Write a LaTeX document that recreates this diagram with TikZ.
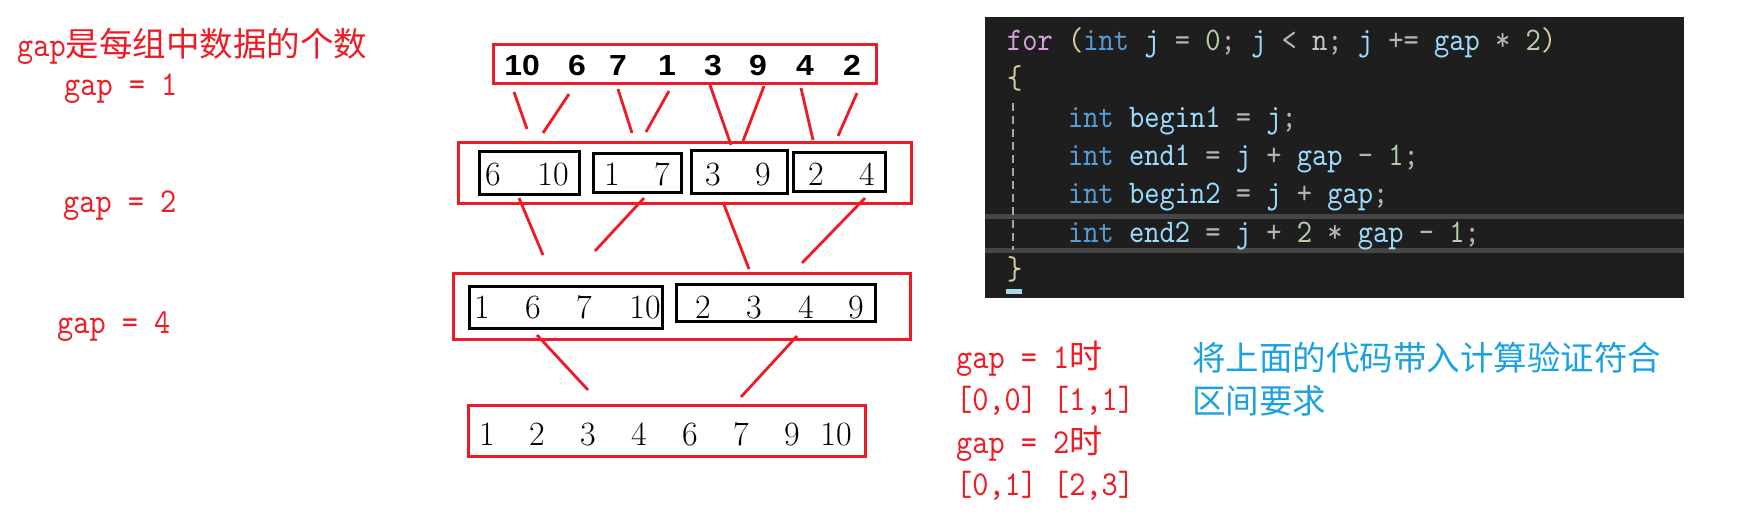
\documentclass[tikz,border=0pt]{standalone}
\usepackage{fontspec}
\newfontfamily\monof{lmmono10-regular.otf}[FakeStretch=0.88]
\newfontfamily\cjk{Noto Sans CJK SC}
\newfontfamily\bsans{Liberation Sans}[FakeStretch=1.1]
\definecolor{myred}{HTML}{ED1C24}
\definecolor{myblue}{HTML}{1BA1E2}
\definecolor{codebg}{HTML}{1E1E1E}
\definecolor{codebar}{HTML}{464646}
\definecolor{cctl}{HTML}{D8A0DF}
\definecolor{ckw}{HTML}{569CD6}
\definecolor{cvar}{HTML}{9CDCFE}
\definecolor{cnum}{HTML}{B5CEA8}
\definecolor{cop}{HTML}{B4B4B4}
\definecolor{cpar}{HTML}{D8CDA2}
\definecolor{cid}{HTML}{C8C8C8}
\definecolor{ccur}{HTML}{A8D8EA}
\newcommand\codeCtl[1]{{\color{cctl}#1}}
\newcommand\codeKw[1]{{\color{ckw}#1}}
\newcommand\codeVar[1]{{\color{cvar}#1}}
\newcommand\codeNum[1]{{\color{cnum}#1}}
\newcommand\codeOp[1]{{\color{cop}#1}}
\newcommand\codePar[1]{{\color{cpar}#1}}
\newcommand\codeId[1]{{\color{cid}#1}}
\begin{document}
\begin{tikzpicture}[x=1pt,y=-1pt,
  redbox/.style={draw=myred,line width=3pt,inner sep=0pt,outer sep=0pt},
  blkbox/.style={draw=black,line width=3pt,inner sep=0pt,outer sep=0pt},
  conn/.style={draw=myred,line width=2.8pt},
  topnum/.style={anchor=base,inner sep=0pt,font=\fontsize{29}{32}\bsans\bfseries},
  rownum/.style={anchor=base,inner sep=0pt,font=\fontsize{34}{40}\selectfont},
  redtxt/.style={anchor=base west,inner sep=0pt,text=myred,font=\fontsize{35}{40}\monof},
  bluetxt/.style={anchor=base west,inner sep=0pt,text=myblue,font=\fontsize{33.5}{40}\cjk},
  codetxt/.style={anchor=base west,inner sep=0pt,font=\fontsize{33}{40}\monof}]
\useasboundingbox (0,0) rectangle (1743,515);

% ---- left labels
\node[redtxt] (lab0) at (17,56) {gap{\fontsize{33.5}{40}\cjk 是每组中数据的个数}};
\node[redtxt] (lab1) at (64,95) {gap = 1};
\node[redtxt] (lab2) at (63,212) {gap = 2};
\node[redtxt] (lab4) at (57,333) {gap = 4};

% ---- boxes
\node[redbox,minimum width=383pt,minimum height=39pt] (r1) at (684.5,63.5) {};
\node[redbox,minimum width=453pt,minimum height=61pt] (r2) at (684.5,172.5) {};
\node[blkbox,minimum width=100pt,minimum height=43pt] (b1) at (529,172.5) {};
\node[blkbox,minimum width=88pt,minimum height=39pt] (b2) at (637,172.5) {};
\node[blkbox,minimum width=96pt,minimum height=43pt] (b3) at (739,171.5) {};
\node[blkbox,minimum width=92pt,minimum height=39pt] (b4) at (839,171.5) {};
\node[redbox,minimum width=457pt,minimum height=66pt] (r3) at (681.5,306) {};
\node[blkbox,minimum width=193pt,minimum height=42pt] (c1) at (565.5,307) {};
\node[blkbox,minimum width=199pt,minimum height=37pt] (c2) at (775.5,302.5) {};
\node[redbox,minimum width=397pt,minimum height=51pt] (r4) at (666.5,430.5) {};

% ---- numbers
\foreach \i/\x/\t in {1/522/10,2/577/6,3/618/7,4/667/1,5/713/3,6/758/9,7/805/4,8/852/2}
  \node[topnum] (t\i) at (\x,75) {\t};
\foreach \i/\x/\t in {1/493/6,2/553/10,3/612/1,4/662/7,5/713/3,6/763/9,7/816/2,8/867/4}
  \node[rownum] (m\i) at (\x,185) {\t};
\foreach \i/\x/\t in {1/482/1,2/533/6,3/584/7,4/645/10,5/703/2,6/754/3,7/806/4,8/856/9}
  \node[rownum] (n\i) at (\x,318) {\t};
\foreach \i/\x/\t in {1/487/1,2/537/2,3/588/3,4/639/4,5/690/6,6/741/7,7/792/9,8/836/10}
  \node[rownum] (o\i) at (\x,445) {\t};

% ---- connectors
\foreach \i/\xa/\ya/\xb/\yb in {
  1/514/92/527/129, 2/569/94/543/133, 3/618/89/632/133, 4/669/91/646/132,
  5/710/85/731/145, 6/764/86/743/141, 7/801/88/813/140, 8/857/93/838/136,
  9/519/198/543/255, 10/644/198/595/251, 11/723/202/749/269, 12/865/198/802/263,
  13/537/335/588/390, 14/797/336/741/397}{
  \coordinate (s\i) at (\xa,\ya);
  \coordinate (e\i) at (\xb,\yb);
  \draw[conn] (s\i) -- (e\i);
}

% ---- code panel
\fill[codebg] (985,17) rectangle (1684,298);
\fill[codebar] (985,214) rectangle (1684,219);
\fill[codebar] (985,247.5) rectangle (1684,252.5);
\draw[color=gray!70,line width=2pt,dash pattern=on 8pt off 5pt] (1013,103) -- (1013,250);
\fill[ccur] (1006,289) rectangle (1022,294);
\node[codetxt] (k1) at (1007,50) {\codeCtl{for} \codePar{(}\codeKw{int} \codeVar{j} \codeOp{=} \codeNum{0}\codeOp{;} \codeVar{j} \codeOp{<} \codeId{n}\codeOp{;} \codeVar{j} \codeOp{+=} \codeVar{gap} \codeOp{*} \codeNum{2}\codePar{)}};
\node[codetxt] (k2) at (1007,88) {\codePar{\{}};
\node[codetxt] (k3) at (1068,127) {\codeKw{int} \codeVar{begin1} \codeOp{=} \codeVar{j}\codeOp{;}};
\node[codetxt] (k4) at (1068,165) {\codeKw{int} \codeVar{end1} \codeOp{=} \codeVar{j} \codeOp{+} \codeVar{gap} \codeOp{-} \codeNum{1}\codeOp{;}};
\node[codetxt] (k5) at (1068,203) {\codeKw{int} \codeVar{begin2} \codeOp{=} \codeVar{j} \codeOp{+} \codeVar{gap}\codeOp{;}};
\node[codetxt] (k6) at (1068,242) {\codeKw{int} \codeVar{end2} \codeOp{=} \codeVar{j} \codeOp{+} \codeNum{2} \codeOp{*} \codeVar{gap} \codeOp{-} \codeNum{1}\codeOp{;}};
\node[codetxt] (k7) at (1007,279) {\codePar{\}}};

% ---- notes under code
\node[redtxt] (g1) at (956,368) {gap = 1{\fontsize{33}{40}\cjk 时}};
\node[redtxt] (g2) at (956,410) {[0,0] [1,1]};
\node[redtxt] (g3) at (956,453) {gap = 2{\fontsize{33}{40}\cjk 时}};
\node[redtxt] (g4) at (956,495) {[0,1] [2,3]};
\node[bluetxt] (h1) at (1192,370) {将上面的代码带入计算验证符合};
\node[bluetxt] (h2) at (1192,413) {区间要求};
\end{tikzpicture}
\end{document}
